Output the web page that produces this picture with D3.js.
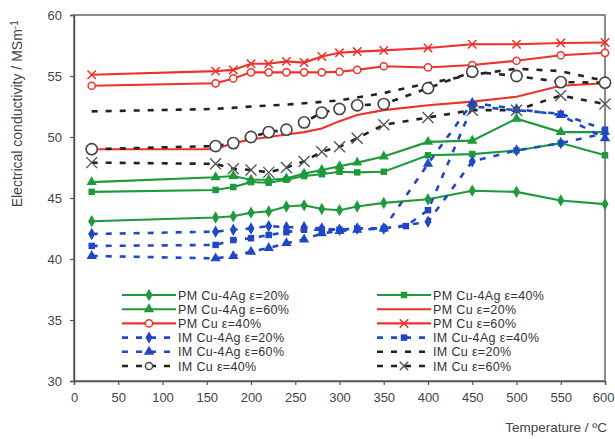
<!DOCTYPE html>
<html>
<head>
<meta charset="utf-8">
<script src="https://cdn.jsdelivr.net/npm/d3@7"></script>
<style>
  html, body { margin: 0; padding: 0; background: #fff; }
  svg { display: block; font-family: "Liberation Sans", Arial, sans-serif; }
</style>
</head>
<body>
<svg id="chart" width="615" height="439"></svg>
<script>
// Temperatures (°C) at which each series was measured
const tempsMain = [20, 160, 180, 200, 220, 240, 260, 280, 300, 320, 350, 400, 450, 500, 550, 600];
const tempsImCu20 = [20, 160, 200, 250, 300, 350, 400, 450, 500, 550, 600];
const tempsImAg40 = [20, 160, 180, 200, 220, 240, 260, 280, 300, 320, 350, 375, 400, 450, 500, 550, 600];

// Electrical conductivity (MS/m)
const pmAg20 = [43.1, 43.4, 43.5, 43.8, 43.9, 44.3, 44.4, 44.1, 44.0, 44.3, 44.6, 44.9, 45.6, 45.5, 44.8, 44.5];
const pmAg40 = [45.5, 45.66, 45.9, 46.3, 46.25, 46.5, 46.8, 46.95, 47.15, 47.1, 47.15, 48.5, 48.6, 48.9, 49.5, 48.5];
const pmAg60 = [46.3, 46.7, 46.8, 46.5, 46.5, 46.6, 47.0, 47.3, 47.6, 47.9, 48.4, 49.6, 49.7, 51.5, 50.4, 50.4];
const pmCu20 = [49.0, 49.0, 49.5, 49.8, 50.0, 50.2, 50.4, 50.7, 51.3, 51.8, 52.2, 52.6, 52.9, 53.3, 54.2, 54.4];
const pmCu40 = [54.2, 54.4, 54.8, 55.3, 55.3, 55.3, 55.3, 55.3, 55.35, 55.5, 55.8, 55.7, 55.9, 56.25, 56.7, 56.9];
const pmCu60 = [55.1, 55.4, 55.5, 56.0, 56.0, 56.2, 56.1, 56.6, 56.9, 57.0, 57.1, 57.3, 57.6, 57.6, 57.7, 57.75];
const imAg20 = [42.05, 42.24, 42.4, 42.5, 42.7, 42.6, 42.6, 42.5, 42.4, 42.5, 42.5, 43.05, 48.0, 48.9, 49.5, 50.3];
const imAg40 = [41.07, 41.15, 41.55, 41.7, 41.97, 42.2, 42.4, 42.4, 42.4, 42.5, 42.5, 42.7, 44.0, 52.5, 52.2, 51.9, 50.6];
const imAg60 = [40.25, 40.05, 40.25, 40.6, 40.9, 41.3, 41.6, 42.1, 42.3, 42.4, 42.5, 47.8, 52.8, 52.3, 51.8, 49.9];
const imCu20 = [52.1, 52.3, 52.5, 52.7, 53.0, 53.6, 54.4, 55.1, 55.6, 55.4, 54.6];
const imCu40 = [49.0, 49.26, 49.5, 50.0, 50.4, 50.6, 51.2, 52.0, 52.3, 52.6, 52.7, 54.0, 55.35, 55.0, 54.5, 54.45];
const imCu60 = [47.9, 47.8, 47.4, 47.3, 47.1, 47.5, 48.0, 48.8, 49.2, 49.9, 51.0, 51.6, 52.2, 52.2, 53.4, 52.7];

const xTicks = [0, 50, 100, 150, 200, 250, 300, 350, 400, 450, 500, 550, 600];
const yTicks = [30, 35, 40, 45, 50, 55, 60];

const GREEN = "#1e9a3c", RED = "#f0312b", BLUE = "#2147c4", BLACK = "#222222", GREY = "#555555";

const series = [
  { name: "PM Cu-4Ag ε=20%", t: tempsMain, v: pmAg20, color: GREEN, dash: null, marker: "diamond" },
  { name: "PM Cu-4Ag ε=40%", t: tempsMain, v: pmAg40, color: GREEN, dash: null, marker: "square" },
  { name: "PM Cu-4Ag ε=60%", t: tempsMain, v: pmAg60, color: GREEN, dash: null, marker: "triangle" },
  { name: "PM Cu ε=20%", t: tempsMain, v: pmCu20, color: RED, dash: null, marker: null },
  { name: "PM Cu ε=40%", t: tempsMain, v: pmCu40, color: RED, dash: null, marker: "circleSmall" },
  { name: "PM Cu ε=60%", t: tempsMain, v: pmCu60, color: RED, dash: null, marker: "x" },
  { name: "IM Cu-4Ag ε=20%", t: tempsMain, v: imAg20, color: BLUE, dash: "6,8", marker: "diamond" },
  { name: "IM Cu-4Ag ε=40%", t: tempsImAg40, v: imAg40, color: BLUE, dash: "6,8", marker: "square" },
  { name: "IM Cu-4Ag ε=60%", t: tempsMain, v: imAg60, color: BLUE, dash: "6,8", marker: "triangle" },
  { name: "IM Cu ε=20%", t: tempsImCu20, v: imCu20, color: BLACK, dash: "6,8", marker: null },
  { name: "IM Cu ε=40%", t: tempsMain, v: imCu40, color: BLACK, dash: "6,8", marker: "circleBig", markerColor: "#444" },
  { name: "IM Cu ε=60%", t: tempsMain, v: imCu60, color: BLACK, dash: "6,8", marker: "xBig", markerColor: GREY }
];

const svg = d3.select("#chart");
const x = d3.scaleLinear().domain([0, 600]).range([74, 605]);
const y = d3.scaleLinear().domain([30, 60]).range([381, 15]);

// Frame
svg.append("rect")
  .attr("x", x(0)).attr("y", y(60))
  .attr("width", x(600) - x(0)).attr("height", y(30) - y(60))
  .attr("fill", "none").attr("stroke", "#666").attr("stroke-width", 1.5);

// Axes
const xAxis = d3.axisBottom(x).tickValues(xTicks).tickSize(4).tickPadding(8);
const yAxis = d3.axisLeft(y).tickValues(yTicks).tickSize(4).tickPadding(8);
const gx = svg.append("g").attr("transform", `translate(0,${y(30)})`).call(xAxis);
const gy = svg.append("g").attr("transform", `translate(${x(0)},0)`).call(yAxis);
[gx, gy].forEach(g => {
  g.select(".domain").attr("stroke", "#555").attr("stroke-width", 1.5);
  g.selectAll(".tick line").attr("stroke", "#555").attr("stroke-width", 1.2);
  g.selectAll(".tick text").attr("fill", "#444").style("font-size", "13px")
    .style("font-family", "'Liberation Sans', Arial, sans-serif");
});
// keep the last x label inside the canvas
gx.selectAll(".tick text").filter(d => d === 600).attr("text-anchor", "end").attr("dx", "9px");

// Axis titles
svg.append("text")
  .attr("x", 607).attr("y", 432).attr("text-anchor", "end")
  .attr("fill", "#444").style("font-size", "13.5px")
  .text("Temperature / ºC");
svg.append("text")
  .attr("transform", `translate(22,${y(51.9)}) rotate(-90)`)
  .attr("text-anchor", "middle").attr("fill", "#444").style("font-size", "14px")
  .html("Electrical conductivity / MSm<tspan dy='-4' font-size='10'>-1</tspan>");

// Marker drawing
function drawMarker(g, type, cx, cy, color) {
  switch (type) {
    case "diamond":
      g.append("path").attr("d", d3.symbol().type(d3.symbolDiamond).size(44)())
        .attr("transform", `translate(${cx},${cy})`).attr("fill", color);
      break;
    case "square":
      g.append("path").attr("d", d3.symbol().type(d3.symbolSquare).size(42)())
        .attr("transform", `translate(${cx},${cy})`).attr("fill", color);
      break;
    case "triangle":
      g.append("path").attr("d", d3.symbol().type(d3.symbolTriangle).size(46)())
        .attr("transform", `translate(${cx},${cy})`).attr("fill", color);
      break;
    case "circleSmall":
      g.append("circle").attr("cx", cx).attr("cy", cy).attr("r", 3.6)
        .attr("fill", "#fff").attr("stroke", color).attr("stroke-width", 1.5);
      break;
    case "circleBig":
      g.append("circle").attr("cx", cx).attr("cy", cy).attr("r", 5.6)
        .attr("fill", "#fff").attr("stroke", color).attr("stroke-width", 1.6);
      break;
    case "x":
    case "xBig": {
      const s = type === "x" ? 4.2 : 5.5;
      g.append("path")
        .attr("d", `M${cx - s},${cy - s}L${cx + s},${cy + s}M${cx - s},${cy + s}L${cx + s},${cy - s}`)
        .attr("stroke", color).attr("stroke-width", type === "x" ? 1.5 : 1.4).attr("fill", "none");
      break;
    }
  }
}

// Series
const line = d3.line().x(d => x(d[0])).y(d => y(d[1]));
const plot = svg.append("g");
series.forEach(s => {
  const pts = s.t.map((t, i) => [t, s.v[i]]);
  plot.append("path").datum(pts)
    .attr("d", line)
    .attr("fill", "none")
    .attr("stroke", s.color)
    .attr("stroke-width", s.dash ? 2.6 : 2.1)
    .attr("stroke-dasharray", s.dash);
});
series.forEach(s => {
  if (!s.marker) return;
  const g = plot.append("g");
  s.t.forEach((t, i) => drawMarker(g, s.marker, x(t), y(s.v[i]), s.markerColor || s.color));
});

// Legend (two columns)
const legend = svg.append("g");
const colX = [122, 377];
const rowY0 = 295, rowStep = 14.2;
series.forEach((s, i) => {
  const col = i % 2, row = Math.floor(i / 2);
  const lx = colX[col], ly = rowY0 + row * rowStep;
  const g = legend.append("g");
  g.append("line")
    .attr("x1", lx).attr("x2", lx + 54).attr("y1", ly).attr("y2", ly)
    .attr("stroke", s.color).attr("stroke-width", s.dash ? 2.6 : 2.1)
    .attr("stroke-dasharray", s.dash ? "6,8" : null);
  if (s.marker) {
    const mt = s.marker === "circleBig" ? "circleSmall" : s.marker === "xBig" ? "x" : s.marker;
    drawMarker(g, mt, lx + 27, ly, s.markerColor || s.color);
  }
  g.append("text")
    .attr("x", lx + 56).attr("y", ly + 4.5)
    .attr("fill", "#333").style("font-size", "12.5px")
    .style("letter-spacing", "0.35px")
    .text(s.name);
});
</script>
</body>
</html>
